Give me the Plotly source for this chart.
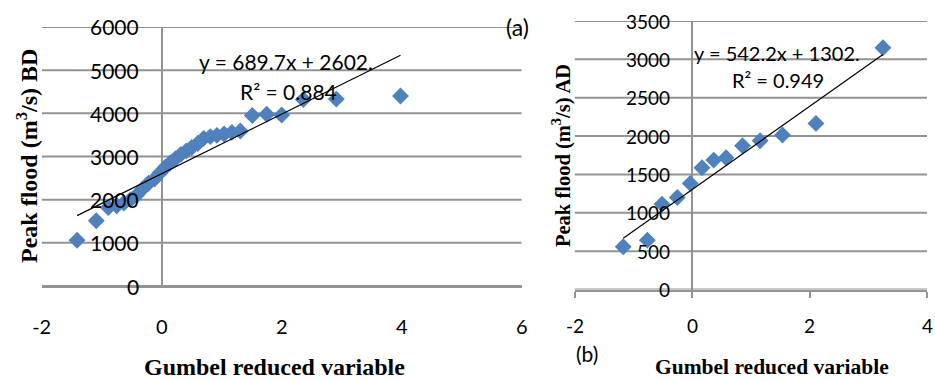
import plotly.graph_objects as go

W, H = 935, 381

# ---------------- data ----------------
# Panel (a): Gumbel reduced variable vs peak flood BD
xa = [-1.41, -1.09, -0.89, -0.75, -0.63, -0.52, -0.42, -0.32, -0.22, -0.12,
      -0.03, 0.06, 0.14, 0.23, 0.32, 0.41, 0.50, 0.60, 0.70, 0.81,
      0.92, 1.04, 1.17, 1.31, 1.51, 1.75, 2.00, 2.36, 2.91, 3.98]
ya = [1060, 1510, 1820, 1860, 1920, 2000, 2100, 2250, 2380, 2480,
      2620, 2750, 2850, 2950, 3050, 3130, 3210, 3300, 3420, 3460,
      3490, 3520, 3560, 3590, 3950, 3980, 3960, 4320, 4330, 4400]
slope_a, icpt_a = 689.7, 2602
eq_a = "y = 689.7x + 2602."
r2_a = "R² = 0.884"

# Panel (b): Gumbel reduced variable vs peak flood AD
xb = [-1.17, -0.76, -0.51, -0.25, -0.03, 0.17, 0.37, 0.58, 0.86, 1.16, 1.54, 2.11, 3.25]
yb = [557, 643, 1113, 1200, 1383, 1587, 1687, 1717, 1874, 1939, 2013, 2165, 3152]
slope_b, icpt_b = 542.2, 1302
eq_b = "y = 542.2x + 1302."
r2_b = "R² = 0.949"

xrange_a = [-2, 6]
xrange_b = [-2, 4]
yrange_a = [0, 6000]
yrange_b = [0, 3500]
xticks_a = [-2, 0, 2, 4, 6]
xticktext_a = ["-2", "0", "2", "4", "6"]
xticks_b = [-2, 0, 2, 4]
xticktext_b = ["-2", "0", "2", "4"]
yticks_a = [0, 1000, 2000, 3000, 4000, 5000, 6000]
yticks_b = [0, 500, 1000, 1500, 2000, 2500, 3000, 3500]

ytitle_a = "Peak flood (m<sup>3</sup>/s) BD"
ytitle_b = "Peak flood (m<sup>3</sup>/s) AD"
xtitle = "Gumbel reduced variable"

# ---------------- style ----------------
BLUE = "#4F81BD"
GRID = "#939393"
TICKFONT = "Lato"
SERIF = "Liberation Serif"

def px(x):
    return x / W

def py(y):
    return 1 - y / H

fig = go.Figure()

def grid_trace(ticks, xr, xax, yax):
    gx, gy = [], []
    for v in ticks:
        gx += [xr[0], xr[1], None]
        gy += [v, v, None]
    return go.Scatter(x=gx, y=gy, mode="lines", xaxis=xax, yaxis=yax,
                      line=dict(color=GRID, width=2), hoverinfo="skip",
                      showlegend=False, cliponaxis=False)

# horizontal gridlines first, so they sit under the data
fig.add_trace(grid_trace(yticks_a, xrange_a, "x", "y"))
fig.add_trace(grid_trace(yticks_b, xrange_b, "x2", "y2"))

mk = dict(symbol="diamond", size=13, color=BLUE, line=dict(width=0))

fig.add_trace(go.Scatter(x=xa, y=ya, mode="markers", xaxis="x", yaxis="y",
                         marker=mk, showlegend=False))
fa_x = [min(xa), max(xa)]
fig.add_trace(go.Scatter(x=fa_x, y=[slope_a * v + icpt_a for v in fa_x], mode="lines",
                         xaxis="x", yaxis="y", line=dict(color="black", width=1.2),
                         showlegend=False))
fig.add_trace(go.Scatter(x=xb, y=yb, mode="markers", xaxis="x2", yaxis="y2",
                         marker=mk, showlegend=False))
fb_x = [min(xb), max(xb)]
fig.add_trace(go.Scatter(x=fb_x, y=[slope_b * v + icpt_b for v in fb_x], mode="lines",
                         xaxis="x2", yaxis="y2", line=dict(color="black", width=1.2),
                         showlegend=False))

# domains (pixels measured from reference)
ax_l, ax_r, ax_t, ax_b = 41.7, 521.7, 27, 286
bx_l, bx_r, bx_t, bx_b = 574.5, 927, 21, 289.5

common_x = dict(showgrid=False, zeroline=True, zerolinecolor=GRID, zerolinewidth=2,
                showline=True, linecolor=GRID, linewidth=2, fixedrange=True,
                automargin=False, tickmode="array")
common_y = dict(showgrid=False, zeroline=False, showline=False, ticks="",
                showticklabels=False, fixedrange=True, automargin=False)

fig.update_layout(
    template="none",
    width=W, height=H,
    margin=dict(l=0, r=0, t=0, b=0, autoexpand=False),
    paper_bgcolor="white", plot_bgcolor="white",
    showlegend=False,
    xaxis=dict(domain=[px(ax_l), px(ax_r)], range=xrange_a, tickvals=xticks_a,
               ticktext=xticktext_a, ticks="outside", ticklen=22,
               tickcolor="rgba(0,0,0,0)", anchor="y",
               tickfont=dict(family=TICKFONT, size=20, color="black"), **common_x),
    yaxis=dict(domain=[py(ax_b), py(ax_t)], range=yrange_a, anchor="x", **common_y),
    xaxis2=dict(domain=[px(bx_l), px(bx_r)], range=xrange_b, tickvals=xticks_b,
                ticks="outside", ticklen=6, tickcolor=GRID, tickwidth=2,
                showticklabels=False, anchor="y2", **common_x),
    yaxis2=dict(domain=[py(bx_b), py(bx_t)], range=yrange_b, anchor="x2", **common_y),
)

# panel (b) x tick labels, set lower under the short tick marks
for v, t in zip(xticks_b, xticktext_b):
    fig.add_annotation(text=t, x=v, y=yrange_b[0], xref="x2", yref="y2",
                       xanchor="center", yanchor="middle", yshift=-36, showarrow=False,
                       font=dict(family=TICKFONT, size=19, color="black"))

# y tick labels sit beside the vertical axis at x = 0 (Excel style)
for v in yticks_a:
    fig.add_annotation(text=str(v), x=0, y=v, xref="x", yref="y", xanchor="right",
                       yanchor="middle", xshift=-21, showarrow=False,
                       font=dict(family=TICKFONT, size=21, color="black"))
for v in yticks_b:
    fig.add_annotation(text=str(v), x=0, y=v, xref="x2", yref="y2", xanchor="right",
                       yanchor="middle", xshift=-20, showarrow=False,
                       font=dict(family=TICKFONT, size=19, color="black"))

def ann(text, x, y, size, family=TICKFONT, angle=0, bold=False):
    fig.add_annotation(text=("<b>%s</b>" % text) if bold else text,
                       x=px(x), y=py(y), xref="paper", yref="paper",
                       xanchor="center", yanchor="middle", showarrow=False,
                       textangle=angle, font=dict(family=family, size=size, color="black"))

ann(eq_a, 286, 62, 21)
ann(r2_a, 288, 91, 21)
ann(eq_b, 777, 53, 20)
ann(r2_b, 778, 80, 20)
ann("(a)", 517, 27, 23)
ann("(b)", 587, 353, 21)
ann(ytitle_a, 27, 156, 24, SERIF, -90, True)
ann(ytitle_b, 562, 156, 20.5, SERIF, -90, True)
ann(xtitle, 274, 367, 24, SERIF, 0, True)
ann(xtitle, 772, 367, 21.5, SERIF, 0, True)

fig.write_html("out.html")
